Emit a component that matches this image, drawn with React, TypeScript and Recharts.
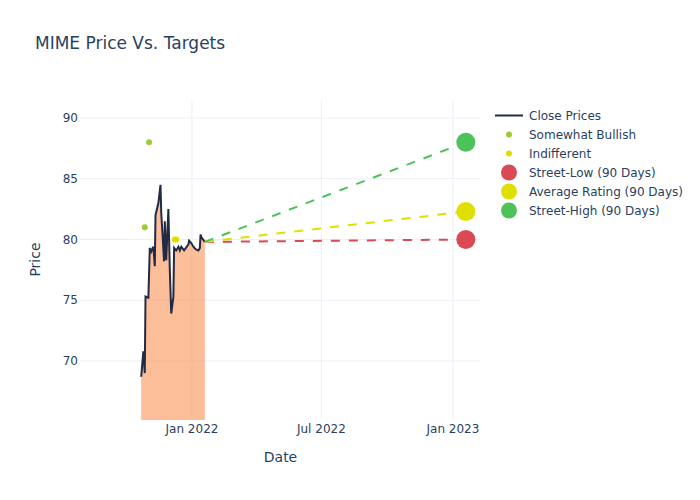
import React from 'react';
import { ComposedChart, Area, Line, Scatter, XAxis, YAxis, CartesianGrid, Legend } from 'recharts';

const closeDates = [
  '2021-10-22', '2021-10-25', '2021-10-27', '2021-10-28', '2021-11-01', '2021-11-03',
  '2021-11-05', '2021-11-08', '2021-11-10', '2021-11-11', '2021-11-15', '2021-11-18',
  '2021-11-19', '2021-11-23', '2021-11-24', '2021-11-26', '2021-11-29', '2021-12-01',
  '2021-12-03', '2021-12-06', '2021-12-07', '2021-12-10', '2021-12-13', '2021-12-15',
  '2021-12-17', '2021-12-21', '2021-12-27', '2021-12-28', '2021-12-31', '2022-01-03',
  '2022-01-06', '2022-01-10', '2022-01-12', '2022-01-13', '2022-01-14', '2022-01-19',
];
const closePrices = [
  68.7, 70.8, 69.0, 75.3, 75.2, 79.3,
  79.0, 79.4, 77.8, 82.0, 83.0, 84.5,
  82.2, 78.2, 81.5, 78.3, 82.5, 77.5,
  73.9, 75.3, 79.3, 79.1, 79.4, 79.1,
  79.4, 79.1, 79.6, 79.9, 79.7, 79.4,
  79.2, 79.1, 79.3, 80.4, 80.2, 79.8,
];

const bullishDates = ['2021-10-27', '2021-11-02'];
const bullishPrices = [81, 88];
const indifferentDates = ['2021-12-08', '2021-12-10'];
const indifferentPrices = [80, 80];

const targetDate = '2023-01-19';
const streetLow = 80;
const averageRating = 82.3;
const streetHigh = 88;

const xTickDates = ['2022-01-01', '2022-07-01', '2023-01-01'];
const xTickLabels = ['Jan 2022', 'Jul 2022', 'Jan 2023'];
const yTicks = [70, 75, 80, 85, 90];

const legendLabels = [
  'Close Prices',
  'Somewhat Bullish',
  'Indifferent',
  'Street-Low (90 Days)',
  'Average Rating (90 Days)',
  'Street-High (90 Days)',
];

const COLORS = {
  close: '#222a44',
  fill: '#F77D33',
  bullish: '#9ACD32',
  indifferent: '#DEDE00',
  low: '#D94A55',
  avg: '#E0E000',
  high: '#4CC35A',
  text: '#2a3f5f',
  grid: '#EBF0F8',
};

const DAY = 86400000;
const ts = (d: string) => Date.parse(d + 'T00:00:00Z');

const closeData = closeDates.map((d, i) => ({ t: ts(d), y: closePrices[i] }));
const bullishData = bullishDates.map((d, i) => ({ t: ts(d), y: bullishPrices[i] }));
const indifferentData = indifferentDates.map((d, i) => ({ t: ts(d), y: indifferentPrices[i] }));
const last = closeData[closeData.length - 1];
const tT = ts(targetDate);
const lowLine = [last, { t: tT, y: streetLow }];
const avgLine = [last, { t: tT, y: averageRating }];
const highLine = [last, { t: tT, y: streetHigh }];
const lowPt = [{ t: tT, y: streetLow }];
const avgPt = [{ t: tT, y: averageRating }];
const highPt = [{ t: tT, y: streetHigh }];

const xTicks = xTickDates.map(ts);
const xDomain = [ts('2022-01-01') - 156.6 * DAY, ts('2022-01-01') + 402.8 * DAY];
const yDomain = [65.14, 91.48];

const FONT = '"DejaVu Sans", Verdana, sans-serif';

const dot = (r: number, color: string) => (p: any) => (
  <circle cx={p.cx} cy={p.cy} r={r} fill={color} />
);

const legendIcons = [
  <line x1={1} y1={9.5} x2={29} y2={9.5} stroke={COLORS.close} strokeWidth={2} />,
  <circle cx={15} cy={9.5} r={3} fill={COLORS.bullish} />,
  <circle cx={15} cy={9.5} r={3} fill={COLORS.indifferent} />,
  <circle cx={15} cy={9.5} r={8} fill={COLORS.low} />,
  <circle cx={15} cy={9.5} r={8} fill={COLORS.avg} />,
  <circle cx={15} cy={9.5} r={8} fill={COLORS.high} />,
];

const LegendBox = () => (
  <div style={{ fontFamily: FONT, fontSize: 12, color: COLORS.text }}>
    {legendLabels.map((label, i) => (
      <div key={label} style={{ display: 'flex', alignItems: 'center', height: 19, whiteSpace: 'nowrap' }}>
        <svg width={35} height={19} style={{ flex: 'none' }}>{legendIcons[i]}</svg>
        <span>{label}</span>
      </div>
    ))}
  </div>
);

export default function App() {
  return (
    <div style={{ position: 'absolute', left: 0, top: 0, width: 700, height: 500, background: '#fff' }}>
      <div
        style={{
          position: 'absolute', left: 35, top: 33, fontFamily: FONT, fontSize: 17,
          color: COLORS.text, whiteSpace: 'nowrap', lineHeight: '20px',
        }}
      >
        MIME Price Vs. Targets
      </div>
      <ComposedChart width={700} height={500} margin={{ top: 100, right: 220, bottom: 30, left: 0 }}>
        <CartesianGrid stroke={COLORS.grid} strokeWidth={1} verticalValues={xTicks} horizontalValues={yTicks} />
        <XAxis
          dataKey="t"
          type="number"
          domain={xDomain}
          allowDataOverflow
          ticks={xTicks}
          tickFormatter={(v: number) => xTickLabels[xTicks.indexOf(v)] ?? ''}
          axisLine={false}
          tickLine={false}
          tickSize={0}
          tickMargin={4}
          height={50}
          tick={{ fill: COLORS.text, fontSize: 12, fontFamily: FONT }}
          label={{
            content: () => (
              <text x={280.5} y={461.5} textAnchor="middle" fill={COLORS.text} fontSize={14} fontFamily={FONT}>
                Date
              </text>
            ),
          }}
        />
        <YAxis
          dataKey="y"
          type="number"
          domain={yDomain}
          allowDataOverflow
          ticks={yTicks}
          axisLine={false}
          tickLine={false}
          tickSize={0}
          tickMargin={2}
          width={80}
          tick={{ fill: COLORS.text, fontSize: 12, fontFamily: FONT }}
          label={{
            content: () => (
              <text
                x={39.5}
                y={259.5}
                textAnchor="middle"
                transform="rotate(-90 39.5 259.5)"
                fill={COLORS.text}
                fontSize={14}
                fontFamily={FONT}
              >
                Price
              </text>
            ),
          }}
        />
        <Legend
          layout="horizontal"
          verticalAlign="middle"
          align="center"
          content={() => <LegendBox />}
          wrapperStyle={{ left: 494, top: 106, width: 200, height: 120 }}
        />
        <Area
          data={closeData}
          dataKey="y"
          type="linear"
          stroke="none"
          fill={COLORS.fill}
          fillOpacity={0.5}
          isAnimationActive={false}
          legendType="none"
        />
        <Line
          data={closeData}
          dataKey="y"
          type="linear"
          stroke={COLORS.close}
          strokeWidth={2}
          dot={false}
          isAnimationActive={false}
        />
        <Scatter data={bullishData} dataKey="y" shape={dot(3, COLORS.bullish)} isAnimationActive={false} />
        <Scatter data={indifferentData} dataKey="y" shape={dot(3, COLORS.indifferent)} isAnimationActive={false} />
        <Line data={lowLine} dataKey="y" type="linear" stroke={COLORS.low} strokeWidth={2} strokeDasharray="9 9" dot={false} isAnimationActive={false} />
        <Line data={avgLine} dataKey="y" type="linear" stroke={COLORS.avg} strokeWidth={2} strokeDasharray="9 9" dot={false} isAnimationActive={false} />
        <Line data={highLine} dataKey="y" type="linear" stroke={COLORS.high} strokeWidth={2} strokeDasharray="9 9" dot={false} isAnimationActive={false} />
        <Scatter data={lowPt} dataKey="y" shape={dot(9.5, COLORS.low)} isAnimationActive={false} />
        <Scatter data={avgPt} dataKey="y" shape={dot(9.5, COLORS.avg)} isAnimationActive={false} />
        <Scatter data={highPt} dataKey="y" shape={dot(9.5, COLORS.high)} isAnimationActive={false} />
      </ComposedChart>
    </div>
  );
}
